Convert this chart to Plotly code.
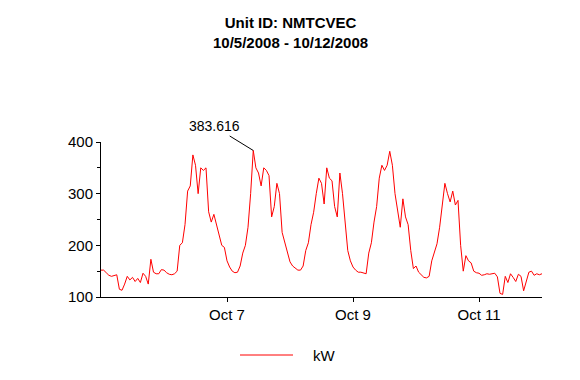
import pandas as pd
import plotly.graph_objects as go

# Hourly kW readings (one list per day)
kw_oct5 = [152, 152, 147, 142, 140, 142, 143, 115, 113, 125, 140, 133,
           138, 130, 136, 128, 146, 140, 125, 173, 148, 145, 145, 153]
kw_oct6 = [152, 147, 144, 143, 145, 150, 200, 205, 240, 305, 315, 375,
           355, 300, 350, 345, 350, 265, 245, 260, 240, 215, 200, 196]
kw_oct7 = [170, 158, 150, 147, 148, 160, 185, 200, 235, 300, 383.616, 350,
           340, 315, 350, 345, 335, 255, 275, 320, 300, 225, 205, 185]
kw_oct8 = [168, 160, 155, 152, 152, 160, 190, 205, 240, 264, 300, 330,
           320, 280, 350, 330, 325, 275, 255, 340, 300, 240, 190, 170]
kw_oct9 = [158, 152, 148, 148, 147, 145, 185, 205, 245, 275, 330, 355,
           345, 355, 382, 355, 300, 270, 235, 290, 255, 240, 190, 155]
kw_oct10 = [160, 148, 142, 138, 137, 140, 170, 185, 203, 235, 275, 320,
            300, 284, 305, 278, 287, 200, 150, 180, 170, 166, 150, 147]
kw_oct11 = [146, 142, 143, 145, 144, 145, 146, 139, 107, 105, 140, 128,
            145, 138, 130, 144, 140, 112, 132, 148, 150, 142, 145, 143, 145]

kw = kw_oct5 + kw_oct6 + kw_oct7 + kw_oct8 + kw_oct9 + kw_oct10 + kw_oct11
times = pd.date_range("2008-10-05 00:00", periods=len(kw), freq="h")

peak_value = max(kw)
peak_time = times[kw.index(peak_value)]

x_tick_vals = ["2008-10-07", "2008-10-09", "2008-10-11"]
x_tick_text = ["Oct 7", "Oct 9", "Oct 11"]
y_tick_vals = [100, 200, 300, 400]

title_line1 = "Unit ID: NMTCVEC"
title_line2 = "10/5/2008 - 10/12/2008"
series_name = "kW"

FONT = "Liberation Sans, Arial, sans-serif"

fig = go.Figure()
fig.add_trace(go.Scatter(
    x=times, y=kw, mode="lines", name=series_name,
    line=dict(color="#ff0000", width=1),
    showlegend=False,
))

# The page body adds an 8px offset, so margins are trimmed by 8 at left/top.
fig.update_layout(
    width=580, height=380,
    margin=dict(l=93, r=46, t=134, b=91),
    paper_bgcolor="white", plot_bgcolor="white",
    font=dict(family=FONT, size=15, color="black"),
    xaxis=dict(
        range=["2008-10-05 00:00", "2008-10-12 00:00"],
        tickvals=x_tick_vals, ticktext=x_tick_text,
        showline=True, linecolor="black", linewidth=1,
        ticks="outside", ticklen=4, tickcolor="black",
        showgrid=False, zeroline=False,
        tickfont=dict(family=FONT, size=15, color="black"),
    ),
    yaxis=dict(
        range=[100, 400],
        tickvals=y_tick_vals,
        showline=True, linecolor="black", linewidth=1,
        ticks="outside", ticklen=4, tickcolor="black",
        minor=dict(dtick=50, tick0=100, ticks="outside", ticklen=3,
                   tickcolor="black", showgrid=False),
        showgrid=False, zeroline=False,
        tickfont=dict(family=FONT, size=15, color="black"),
    ),
)

# Title (two lines)
fig.add_annotation(text="<b>%s</b><br><b>%s</b>" % (title_line1, title_line2),
                   xref="paper", yref="paper",
                   x=(290 - 101) / 441, y=(297 - 32.5) / 155, showarrow=False,
                   xanchor="center", yanchor="middle", align="center",
                   font=dict(family=FONT, size=15, color="black"))

# Peak label
fig.add_annotation(x=peak_time, y=peak_value, text="%.3f" % peak_value,
                   showarrow=True, arrowhead=0, arrowwidth=1, arrowcolor="black",
                   ax=-39, ay=-24, font=dict(family=FONT, size=14, color="black"))

# Legend (manual)
fig.add_shape(type="line", xref="paper", yref="paper",
              x0=(240 - 101) / 441, x1=(293 - 101) / 441,
              y0=(297 - 355) / 155, y1=(297 - 355) / 155,
              line=dict(color="#ff0000", width=1))
fig.add_annotation(text=series_name, xref="paper", yref="paper",
                   x=(324 - 101) / 441, y=(297 - 355) / 155, showarrow=False,
                   xanchor="center", yanchor="middle",
                   font=dict(family=FONT, size=15, color="black"))

fig.write_html("out.html")
